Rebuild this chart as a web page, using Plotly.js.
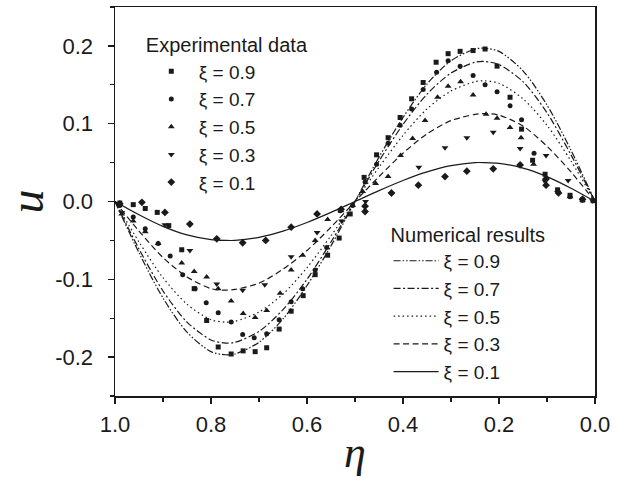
<!DOCTYPE html>
<html>
<head>
<meta charset="utf-8">
<script src="https://cdn.plot.ly/plotly-3.0.1.min.js"></script>
<style>html,body{margin:0;padding:0;background:#fff;}#chart{width:618px;height:477px;}</style>
</head>
<body>
<div id="chart"></div>
<script>
// ---- Numerical results (lines) ----
const etaNum = [1.0,0.95,0.90,0.85,0.80,0.77,0.75,0.70,0.65,0.60,0.55,0.50,0.45,0.40,0.35,0.30,0.25,0.23,0.20,0.15,0.10,0.05,0.0];
const num09 = [0,-0.066,-0.124,-0.168,-0.193,-0.197,-0.196,-0.181,-0.151,-0.108,-0.057,0,0.057,0.108,0.151,0.181,0.196,0.197,0.193,0.168,0.124,0.066,0];
const num07 = [0,-0.061,-0.115,-0.155,-0.178,-0.182,-0.181,-0.167,-0.139,-0.100,-0.052,0,0.052,0.099,0.138,0.165,0.179,0.180,0.176,0.154,0.114,0.060,0];
const num05 = [0,-0.052,-0.098,-0.132,-0.152,-0.155,-0.154,-0.142,-0.119,-0.085,-0.044,0,0.044,0.085,0.119,0.142,0.154,0.155,0.152,0.132,0.098,0.052,0];
const num03 = [0,-0.038,-0.072,-0.097,-0.112,-0.114,-0.113,-0.105,-0.087,-0.063,-0.033,0,0.032,0.062,0.087,0.104,0.112,0.113,0.111,0.097,0.071,0.038,0];
const num01 = [0,-0.017,-0.032,-0.043,-0.049,-0.050,-0.050,-0.046,-0.038,-0.027,-0.014,0,0.014,0.027,0.038,0.046,0.050,0.050,0.049,0.043,0.032,0.017,0];

// ---- Experimental data (markers) ----
const expEta09 = [0.990,0.962,0.937,0.912,0.888,0.861,0.835,0.809,0.785,0.758,0.733,0.708,0.684,0.658,0.633,0.608,0.583,0.557,0.533,0.510,0.481,0.455,0.431,0.406,0.382,0.358,0.331,0.306,0.281,0.254,0.229,0.204,0.177,0.153,0.130,0.104,0.078,0.052,0.026,0.004];
const expU09   = [-0.002,-0.004,-0.009,-0.014,-0.031,-0.062,-0.112,-0.153,-0.187,-0.196,-0.192,-0.193,-0.188,-0.164,-0.141,-0.121,-0.094,-0.069,-0.047,-0.016,0.031,0.060,0.082,0.108,0.132,0.153,0.179,0.190,0.193,0.194,0.196,0.174,0.134,0.093,0.053,0.035,0.015,0.008,0.002,0.001];

const expEta07 = [0.990,0.962,0.937,0.910,0.885,0.859,0.833,0.810,0.785,0.758,0.734,0.710,0.684,0.658,0.633,0.609,0.583,0.559,0.531,0.505,0.479,0.455,0.431,0.406,0.382,0.358,0.330,0.306,0.281,0.254,0.229,0.204,0.177,0.153,0.127,0.104,0.076,0.052,0.026];
const expU07   = [-0.005,-0.020,-0.035,-0.054,-0.070,-0.094,-0.112,-0.130,-0.143,-0.155,-0.171,-0.175,-0.170,-0.152,-0.129,-0.112,-0.088,-0.059,-0.012,-0.005,0.025,0.048,0.075,0.098,0.119,0.144,0.166,0.181,0.174,0.162,0.150,0.141,0.123,0.105,0.062,0.027,0.012,0.006,0.002];

const expEta05 = [0.986,0.962,0.937,0.910,0.861,0.835,0.809,0.785,0.758,0.733,0.708,0.684,0.656,0.633,0.609,0.583,0.557,0.529,0.505,0.484,0.457,0.431,0.405,0.380,0.354,0.328,0.306,0.280,0.254,0.227,0.204,0.177,0.154,0.128,0.104,0.078,0.052,0.026];
const expU05   = [-0.016,-0.025,-0.039,-0.054,-0.079,-0.090,-0.097,-0.112,-0.128,-0.144,-0.149,-0.140,-0.118,-0.088,-0.069,-0.050,-0.023,-0.012,-0.005,0.013,0.023,0.032,0.059,0.081,0.104,0.134,0.148,0.154,0.137,0.112,0.107,0.095,0.082,0.048,0.029,0.014,0.006,0.002];

const expEta03 = [0.986,0.896,0.844,0.788,0.734,0.688,0.633,0.579,0.528,0.478,0.424,0.367,0.3125,0.267,0.212,0.156,0.102,0.056,0.005];
const expU03   = [-0.014,-0.030,-0.063,-0.106,-0.114,-0.107,-0.071,-0.040,-0.025,0.000,0.010,0.044,0.069,0.082,0.089,0.068,0.059,0.027,0.001];

const expEta01 = [0.990,0.944,0.896,0.844,0.788,0.734,0.686,0.633,0.579,0.529,0.479,0.479,0.424,0.368,0.3125,0.267,0.212,0.156,0.102,0.102,0.076,0.026];
const expU01   = [-0.003,-0.001,-0.014,-0.029,-0.048,-0.053,-0.050,-0.033,-0.016,-0.010,-0.006,-0.013,0.011,0.021,0.032,0.039,0.042,0.047,0.029,0.021,0.011,0.003];

// ---- labels ----
const expNames = ['ξ = 0.9','ξ = 0.7','ξ = 0.5','ξ = 0.3','ξ = 0.1'];
const numNames = ['ξ = 0.9','ξ = 0.7','ξ = 0.5','ξ = 0.3','ξ = 0.1'];
const xTickVals = [1.0,0.8,0.6,0.4,0.2,0.0];
const xTickText = ['1.0','0.8','0.6','0.4','0.2','0.0'];
const yTickVals = [-0.2,-0.1,0.0,0.1,0.2];
const yTickText = ['-0.2','-0.1','0.0','0.1','0.2'];
const expTitle = 'Experimental data';
const numTitle = 'Numerical results';
const xTitle = '<i>η</i>';
const yTitle = '<i>u</i>';

const INK = '#1a1a1a';
const expSets = [[expEta09,expU09,'square',5],[expEta07,expU07,'circle',5],[expEta05,expU05,'triangle-up',6],[expEta03,expU03,'triangle-down',6],[expEta01,expU01,'diamond',6]];
const numSets = [[num09,'7px,2px,1.5px,2px,1.5px,2px'],[num07,'7px,2.5px,2px,2.5px'],[num05,'1.5px,3px'],[num03,'6px,3.5px'],[num01,'solid']];

const traces = [];
numSets.forEach((s,i)=>{
  traces.push({x:etaNum,y:s[0],type:'scatter',mode:'lines',name:numNames[i],legend:'legend2',
    line:{color:INK,width:1.2,dash:s[1],shape:'spline',smoothing:0.8}});
});
expSets.forEach((s,i)=>{
  traces.push({x:s[0],y:s[1],type:'scatter',mode:'markers',name:expNames[i],legend:'legend',
    marker:{symbol:s[2],size:s[3],color:INK,line:{width:0}}});
});

const tickFont = {family:'Liberation Sans, Arial, sans-serif',size:22,color:INK};
const legFont = {family:'Liberation Sans, Arial, sans-serif',size:19,color:INK};
const layout = {
  width:618,height:477,
  margin:{l:115,r:23,t:7,b:81},
  paper_bgcolor:'#fff',plot_bgcolor:'#fff',
  showlegend:true,
  xaxis:{range:[1,0],tickmode:'array',tickvals:xTickVals,ticktext:xTickText,
    ticks:'outside',ticklen:6,tickwidth:1.5,tickcolor:INK,linecolor:INK,linewidth:1.5,mirror:true,
    showgrid:false,zeroline:false,tickfont:tickFont,ticklabelstandoff:2,
    minor:{tickmode:'array',tickvals:[0.9,0.7,0.5,0.3,0.1],ticks:'outside',ticklen:4,tickwidth:1.2,tickcolor:INK,showgrid:false},
    title:{text:xTitle,font:{family:'Liberation Serif, DejaVu Serif, serif',size:44,color:INK},standoff:2}},
  yaxis:{range:[-0.25,0.25],tickmode:'array',tickvals:yTickVals,ticktext:yTickText,
    ticks:'outside',ticklen:6,tickwidth:1.5,tickcolor:INK,linecolor:INK,linewidth:1.5,mirror:true,
    showgrid:false,zeroline:false,tickfont:tickFont,ticklabelstandoff:10,
    minor:{tickmode:'array',tickvals:[-0.25,-0.15,-0.05,0.05,0.15,0.25],ticks:'outside',ticklen:4,tickwidth:1.2,tickcolor:INK,showgrid:false},
    title:{text:yTitle,font:{family:'Liberation Serif, DejaVu Serif, serif',size:48,color:INK},standoff:28}},
  legend:{x:0.06,y:0.95,xanchor:'left',yanchor:'top',bgcolor:'rgba(0,0,0,0)',borderwidth:0,
    font:legFont,title:{text:expTitle,font:{family:'Liberation Sans, Arial, sans-serif',size:20,color:INK}},
    itemwidth:45,tracegroupgap:0},
  legend2:{x:0.57,y:0.463,xanchor:'left',yanchor:'top',bgcolor:'rgba(0,0,0,0)',borderwidth:0,
    font:legFont,title:{text:numTitle,font:{family:'Liberation Sans, Arial, sans-serif',size:20,color:INK}},
    itemwidth:45,tracegroupgap:0}
};
Plotly.newPlot('chart',traces,layout,{displayModeBar:false,staticPlot:true});
</script>
</body>
</html>
